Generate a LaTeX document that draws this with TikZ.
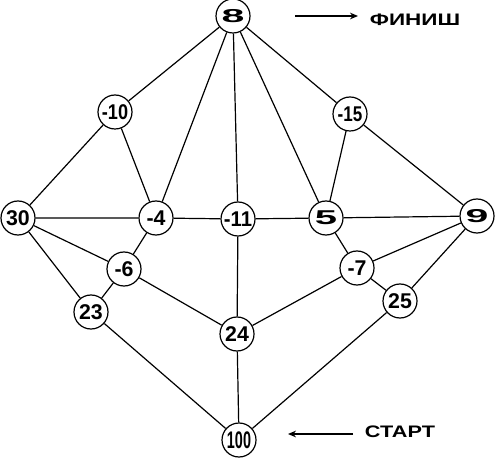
\documentclass[tikz,border=0pt]{standalone}
\usepackage{fontspec}
\setmainfont{Liberation Sans}
\usetikzlibrary{arrows.meta}
\begin{document}
\begin{tikzpicture}[x=0.75pt,y=-0.75pt,
  vert/.style={circle,draw,line width=0.9pt,fill=white,minimum size=34*0.75pt,inner sep=0pt,font=\fontsize{16}{16}\selectfont\bfseries},
  edge/.style={line width=0.9pt},
  lbl/.style={font=\fontsize{12.5}{12.5}\selectfont\bfseries}]
\useasboundingbox (0,0) rectangle (499,466);
\node[vert,font=\fontsize{14}{14}\selectfont\bfseries] (n8) at (233,16) {\scalebox{2.2}[1]{8}};
\node[vert] (n10) at (115,112) {\scalebox{0.85}[1]{-10}};
\node[vert] (n15) at (350,114) {\scalebox{0.8}[1]{-15}};
\node[vert] (n30) at (18,218) {30};
\node[vert] (n4) at (156,218) {-4};
\node[vert] (n11) at (238,219) {\scalebox{0.95}[1]{-11}};
\node[vert,font=\fontsize{15}{15}\selectfont\bfseries] (n5) at (326,218) {\scalebox{2}[1]{5}};
\node[vert,font=\fontsize{14}{14}\selectfont\bfseries] (n9) at (477,216) {\scalebox{2.2}[1]{9}};
\node[vert] (n6) at (124,269) {-6};
\node[vert] (n23) at (91,312) {23};
\node[vert] (n7) at (357,268) {-7};
\node[vert] (n25) at (400,301) {25};
\node[vert] (n24) at (237,334) {24};
\node[vert,font=\fontsize{18}{18}\selectfont\bfseries] (n100) at (239,440) {\scalebox{0.6}[1]{100}};
\draw[edge] (n8)--(n10) (n8)--(n15) (n8)--(n4) (n8)--(n11) (n8)--(n5)
  (n10)--(n30) (n10)--(n4) (n15)--(n5) (n15)--(n9)
  (n30)--(n4) (n4)--(n11) (n11)--(n5) (n5)--(n9)
  (n30)--(n6) (n30)--(n23) (n4)--(n6) (n6)--(n23) (n6)--(n24)
  (n11)--(n24) (n24)--(n100) (n5)--(n7) (n7)--(n9) (n7)--(n24)
  (n7)--(n25) (n9)--(n25) (n23)--(n100) (n25)--(n100);
\coordinate (fa) at (295,16); \coordinate (fb) at (358,16);
\draw[edge,-{Stealth[length=6pt,width=5pt]}] (fa)--(fb);
\node[lbl] (fin) at (415,20) {\scalebox{1.35}[1]{ФИНИШ}};
\coordinate (sa) at (353,434); \coordinate (sb) at (288,434);
\draw[edge,-{Stealth[length=6pt,width=5pt]}] (sa)--(sb);
\node[lbl] (st) at (400,432) {\scalebox{1.3}[1]{СТАРТ}};
\end{tikzpicture}
\end{document}
